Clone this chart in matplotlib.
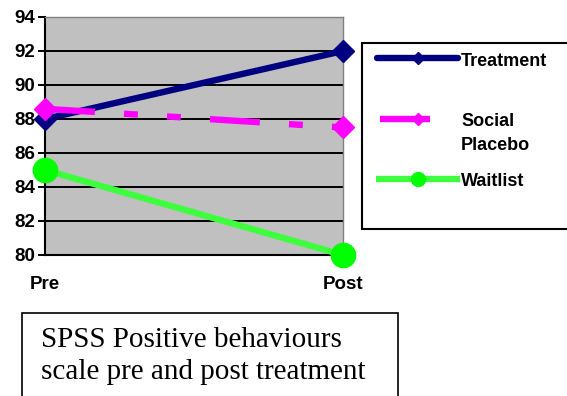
import matplotlib
matplotlib.use("Agg")
import matplotlib.pyplot as plt
from matplotlib.lines import Line2D

plt.rcParams['lines.scale_dashes'] = False

categories = ["Pre", "Post"]
treatment = [88, 92]
placebo = [88.6, 87.5]
waitlist = [85, 80]
yticks = [80, 82, 84, 86, 88, 90, 92, 94]
series_labels = ["Treatment", "Social\nPlacebo", "Waitlist"]
caption = "SPSS Positive behaviours\nscale pre and post treatment"

W, H = 567, 396
fig = plt.figure(figsize=(W / 100, H / 100), dpi=100)
fig.patch.set_facecolor("white")

def px_axes(l, t, r, b):
    return [l / W, (H - b) / H, (r - l) / W, (b - t) / H]

ax = fig.add_axes(px_axes(45, 17, 343, 255))
ax.set_facecolor("#c0c0c0")

navy = "#000080"
magenta = "#ff00ff"
green = "#3dff3d"
dash = (0, (36, 21, 10, 21, 10, 21))
x = list(range(len(categories)))

ax.plot(x, treatment, color=navy, lw=4.6, marker="D", ms=11.5,
        solid_capstyle="butt", clip_on=False, zorder=3)
ax.plot(x, placebo, color=magenta, lw=4.6, ls=dash, marker="D", ms=11.5,
        dash_capstyle="butt", clip_on=False, zorder=4)
ax.plot(x, waitlist, color=green, lw=4.6, marker="o", ms=17.5,
        markerfacecolor="#00ff00", markeredgecolor="#00ff00",
        solid_capstyle="butt", clip_on=False, zorder=5)

ax.set_xlim(0, 1)
ax.set_ylim(80, 94)
ax.set_yticks(yticks)
ax.set_xticks(x)
ax.set_xticklabels(categories)
ax.yaxis.grid(True, color="black", lw=1.4, zorder=1)
ax.set_axisbelow(True)
for lab in ax.get_xticklabels() + ax.get_yticklabels():
    lab.set_fontfamily("Liberation Sans")
    lab.set_fontweight("bold")
    lab.set_fontsize(13.5)
ax.tick_params(axis="y", direction="out", length=5, width=1.4, pad=2, color="black")
ax.tick_params(axis="x", length=0, pad=15)
ax.spines["left"].set_color("black")
ax.spines["left"].set_linewidth(1.5)
ax.spines["bottom"].set_color("black")
ax.spines["bottom"].set_linewidth(1.5)
ax.spines["top"].set_color("#808080")
ax.spines["top"].set_linewidth(1)
ax.spines["right"].set_color("#808080")
ax.spines["right"].set_linewidth(1)

# overlay axes in pixel coordinates for legend and caption box
ov = fig.add_axes([0, 0, 1, 1], zorder=10)
ov.set_xlim(0, W)
ov.set_ylim(H, 0)
ov.axis("off")
ov.patch.set_alpha(0)

# legend frame (open on the right: it runs past the figure edge)
ov.add_line(Line2D([566.9, 361.5, 361.5, 566.9], [42.5, 42.5, 228.5, 228.5],
                   color="black", lw=1.5, solid_joinstyle="miter",
                   solid_capstyle="butt", clip_on=False))
ov.add_line(Line2D([377, 458], [58, 58], color=navy, lw=4.6, solid_capstyle="round"))
ov.add_line(Line2D([418], [58], color=navy, marker="D", ms=6.5, lw=0))
ov.add_line(Line2D([380, 458], [119, 119], color=magenta, lw=4.6, ls=dash, dash_capstyle="butt"))
ov.add_line(Line2D([418], [119], color=magenta, marker="D", ms=6.5, lw=0))
ov.add_line(Line2D([376, 460], [179, 179], color=green, lw=4.6, solid_capstyle="butt"))
ov.add_line(Line2D([418], [179], color="#00ff00", marker="o", ms=10, lw=0))

lt = dict(fontfamily="Liberation Sans", fontweight="bold", fontsize=13, color="black")
ov.text(461, 61, series_labels[0], va="center", ha="left", **lt)
ov.text(461, 113, series_labels[1], va="top", ha="left", linespacing=1.5, **lt)
ov.text(461, 182, series_labels[2], va="center", ha="left", **lt)

# caption frame (open at the bottom: it runs past the figure edge)
ov.add_line(Line2D([21.5, 21.5, 397.5, 397.5], [396, 312.5, 312.5, 396],
                   color="black", lw=1.2, solid_joinstyle="miter",
                   solid_capstyle="butt", clip_on=False))
ov.text(41, 327, caption, va="top", ha="left", fontfamily="Liberation Serif",
        fontsize=21, linespacing=1.3, color="black")

fig.savefig("out.png", dpi=100)
